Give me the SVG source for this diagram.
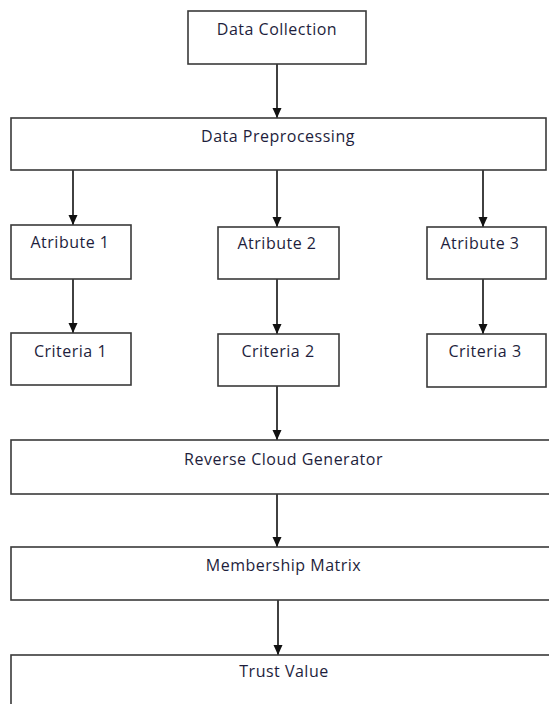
<svg xmlns="http://www.w3.org/2000/svg" width="549" height="704" viewBox="0 0 549 704">
<style>
.box{fill:#fff;stroke:#3a3a3a;stroke-width:1.6}
.lbl{font-family:"Open Sans","Liberation Sans",sans-serif;font-size:16px;letter-spacing:0.5px;fill:#1e1e3c;text-anchor:middle}
.con{stroke:#111;stroke-width:1.6;fill:none;marker-end:url(#arr)}
</style>
<defs>
<marker id="arr" markerUnits="userSpaceOnUse" markerWidth="10" markerHeight="10" viewBox="0 0 10 10" refX="10" refY="5" orient="auto">
<path d="M0,0.5 L10,5 L0,9.5 Z" fill="#111"/>
</marker>
</defs>
<rect width="549" height="704" fill="#fff"/>
<g id="connectors">
<line class="con" x1="277" y1="64" x2="277" y2="118"/>
<line class="con" x1="73" y1="170" x2="73" y2="225"/>
<line class="con" x1="277" y1="170" x2="277" y2="227"/>
<line class="con" x1="483" y1="170" x2="483" y2="227"/>
<line class="con" x1="73" y1="279" x2="73" y2="333"/>
<line class="con" x1="277" y1="279" x2="277" y2="334"/>
<line class="con" x1="483" y1="279" x2="483" y2="334"/>
<line class="con" x1="277" y1="386" x2="277" y2="440"/>
<line class="con" x1="277" y1="494" x2="277" y2="547"/>
<line class="con" x1="278" y1="600" x2="278" y2="655"/>
</g>
<g id="data-collection"><rect class="box" x="188" y="11" width="178" height="53"/><text class="lbl" x="277" y="35">Data Collection</text></g>
<g id="data-preprocessing"><rect class="box" x="11" y="118" width="535" height="52"/><text class="lbl" x="278" y="142">Data Preprocessing</text></g>
<g id="atribute-1"><rect class="box" x="11" y="225" width="120" height="54"/><text class="lbl" x="70" y="248">Atribute 1</text></g>
<g id="atribute-2"><rect class="box" x="218" y="227" width="121" height="52"/><text class="lbl" x="277" y="249">Atribute 2</text></g>
<g id="atribute-3"><rect class="box" x="427" y="227" width="119" height="52"/><text class="lbl" x="480" y="249">Atribute 3</text></g>
<g id="criteria-1"><rect class="box" x="11" y="333" width="120" height="52"/><text class="lbl" x="70.5" y="357">Criteria 1</text></g>
<g id="criteria-2"><rect class="box" x="218" y="334" width="121" height="52"/><text class="lbl" x="278" y="357">Criteria 2</text></g>
<g id="criteria-3"><rect class="box" x="427" y="334" width="119" height="53"/><text class="lbl" x="485" y="357">Criteria 3</text></g>
<g id="reverse-cloud-generator"><rect class="box" x="11" y="440" width="560" height="54"/><text class="lbl" x="283.5" y="465">Reverse Cloud Generator</text></g>
<g id="membership-matrix"><rect class="box" x="11" y="547" width="560" height="53"/><text class="lbl" x="283.5" y="571">Membership Matrix</text></g>
<g id="trust-value"><rect class="box" x="11" y="655" width="560" height="80"/><text class="lbl" x="284" y="677">Trust Value</text></g>
</svg>
